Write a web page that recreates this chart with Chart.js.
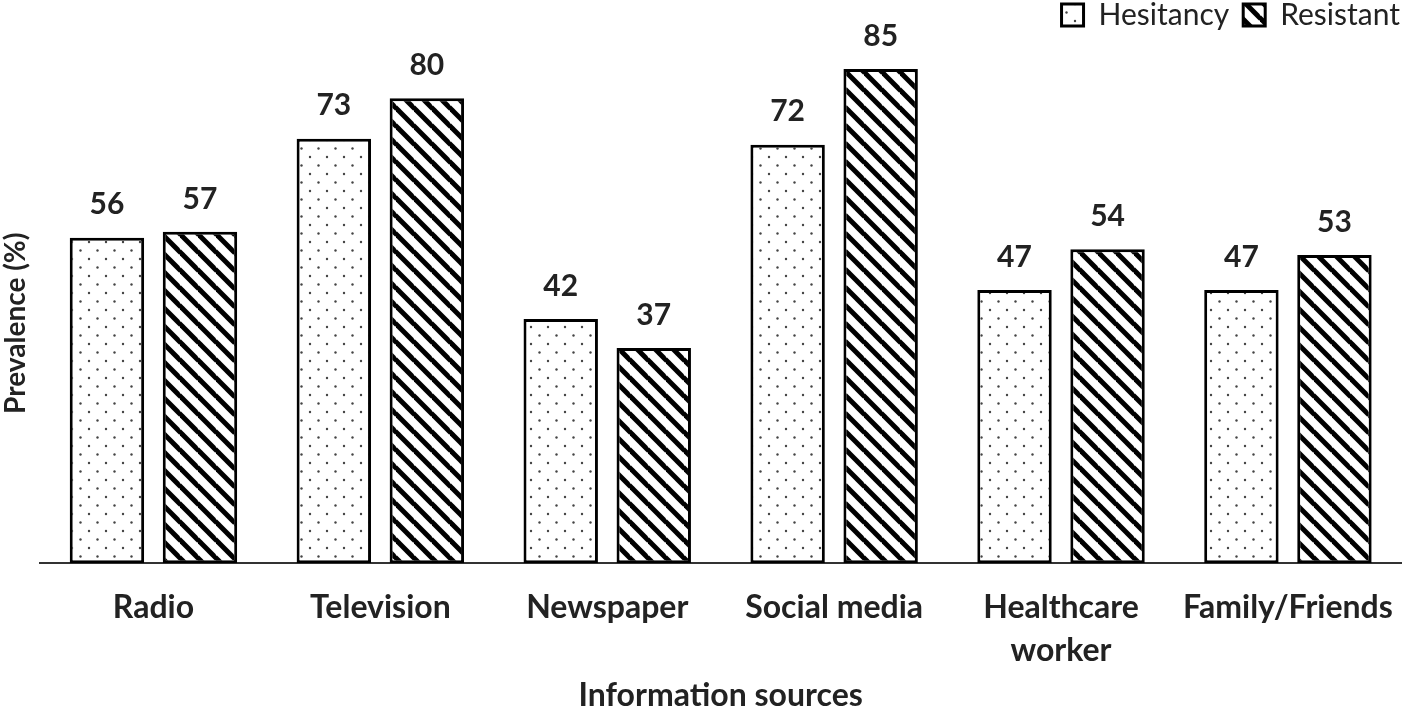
<!DOCTYPE html>
<html>
<head>
<meta charset="utf-8">
<script src="https://cdn.jsdelivr.net/npm/chart.js@4.4.1/dist/chart.umd.min.js"></script>
<style>
  body { margin: 0; background: #fff; }
  #wrap { width: 1416px; height: 711px; position: relative; }
</style>
</head>
<body>
<div id="wrap"><canvas id="bar-chart"></canvas></div>
<script>
var categories = ['Radio', 'Television', 'Newspaper', 'Social media', ['Healthcare', 'worker'], 'Family/Friends'];
var hesitancy = [56, 73, 42, 72, 47, 47];
var resistant = [57, 80, 37, 85, 54, 53];

// fill patterns like the print version
function dotPattern() {
  var c = document.createElement('canvas');
  c.width = 17; c.height = 17;
  var x = c.getContext('2d');
  x.fillStyle = '#fff';
  x.fillRect(0, 0, 17, 17);
  x.fillStyle = '#444';
  x.beginPath(); x.arc(4, 4, 1.2, 0, Math.PI * 2); x.fill();
  x.beginPath(); x.arc(12.5, 12.5, 1.2, 0, Math.PI * 2); x.fill();
  return x.createPattern(c, 'repeat');
}

function hatchPattern() {
  var s = 18;
  var c = document.createElement('canvas');
  c.width = s; c.height = s;
  var x = c.getContext('2d');
  x.fillStyle = '#fff';
  x.fillRect(0, 0, s, s);
  x.strokeStyle = '#000';
  x.lineWidth = 5;
  [-s, 0, s].forEach(function(k) {
    x.beginPath();
    x.moveTo(-1, -1 + k);
    x.lineTo(s + 1, s + 1 + k);
    x.stroke();
  });
  return x.createPattern(c, 'repeat');
}

var valueLabels = {
  id: 'valueLabels',
  afterDatasetsDraw: function(chart) {
    var ctx = chart.ctx;
    ctx.save();
    ctx.font = 'bold 30px Lato';
    ctx.fillStyle = '#222';
    ctx.textAlign = 'center';
    ctx.textBaseline = 'middle';
    chart.data.datasets.forEach(function(ds, i) {
      chart.getDatasetMeta(i).data.forEach(function(bar, j) {
        ctx.fillText(ds.data[j], bar.x, bar.y - 33);
      });
    });
    ctx.restore();
  }
};

var yTitle = {
  id: 'yTitle',
  afterDraw: function(chart) {
    var ctx = chart.ctx;
    ctx.save();
    ctx.translate(16, chart.chartArea.bottom - 240);
    ctx.rotate(-Math.PI / 2);
    ctx.font = 'bold 28px Lato';
    ctx.fillStyle = '#222';
    ctx.textAlign = 'center';
    ctx.textBaseline = 'middle';
    ctx.fillText('Prevalence (%)', 0, 0);
    ctx.restore();
  }
};

var mychart = new Chart(document.getElementById('bar-chart'), {
  type: 'bar',
  data: {
    labels: categories,
    datasets: [{
      label: 'Hesitancy',
      data: hesitancy,
      backgroundColor: dotPattern(),
      borderColor: '#000',
      borderWidth: 3,
      borderSkipped: false
    }, {
      label: 'Resistant',
      data: resistant,
      backgroundColor: hatchPattern(),
      borderColor: '#000',
      borderWidth: 3,
      borderSkipped: false
    }]
  },
  options: {
    responsive: true,
    maintainAspectRatio: false,
    animation: false,
    layout: { padding: { left: 40, right: 2, top: -14, bottom: 0 } },
    datasets: {
      bar: { categoryPercentage: 0.82, barPercentage: 0.80 }
    },
    plugins: {
      legend: {
        position: 'top',
        align: 'end',
        labels: {
          font: { family: 'Lato', size: 30 },
          color: '#222',
          boxWidth: 22,
          boxHeight: 22,
          padding: 14
        }
      },
      tooltip: { enabled: false }
    },
    scales: {
      x: {
        grid: { display: false, drawTicks: false },
        border: { color: '#333', width: 2 },
        ticks: {
          color: '#222',
          padding: 23,
          font: { family: 'Lato', size: 32, weight: 'bold', lineHeight: 1.35 },
          maxRotation: 0
        },
        title: {
          display: true,
          text: 'Information sources',
          color: '#222',
          font: { family: 'Lato', size: 32, weight: 'bold' },
          padding: { top: -19, bottom: -4 }
        }
      },
      y: {
        display: false,
        min: 0,
        max: 90
      }
    }
  },
  plugins: [valueLabels, yTitle]
});
</script>
</body>
</html>
